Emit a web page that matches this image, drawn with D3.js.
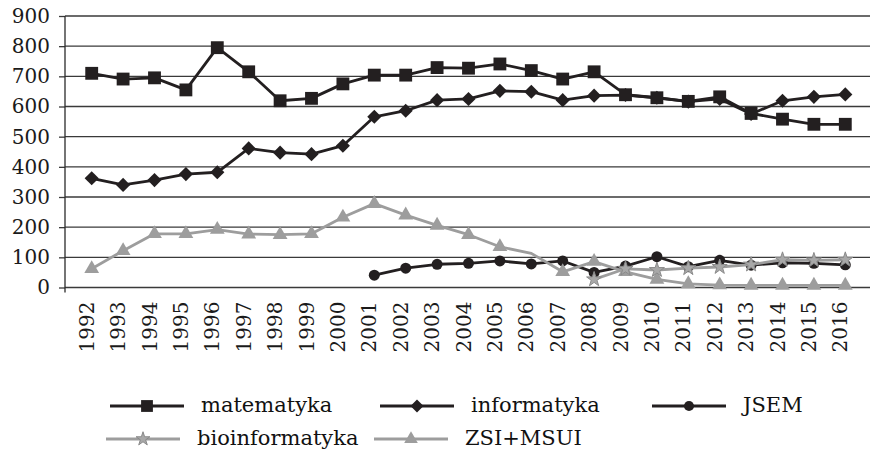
<!DOCTYPE html>
<html>
<head>
<meta charset="utf-8">
<script src="https://cdnjs.cloudflare.com/ajax/libs/d3/7.8.5/d3.min.js"></script>
<style>
  body{margin:0;background:#fff;}
  svg{display:block;}
</style>
</head>
<body>
<div id="chart"></div>
<script>
"use strict"

// data
var years = ["1992","1993","1994","1995","1996","1997","1998","1999","2000","2001","2002","2003",
  "2004","2005","2006","2007","2008","2009","2010","2011","2012","2013","2014","2015","2016"];
var yTicks = [0,100,200,300,400,500,600,700,800,900];

var matematyka = [710,691,695,655,795,715,619,627,675,704,704,729,727,741,719,691,715,639,629,617,632,577,558,541,541];
var informatyka = [362,340,356,376,382,461,447,442,470,566,586,621,625,652,649,621,636,638,629,616,625,575,619,632,640];
var jsem = [null,null,null,null,null,null,null,null,null,
  41,64,77,80,88,78,88,50,71,102,69,90,74,82,80,75];
var bioinformatyka = [null,null,null,null,null,null,null,null,null,null,null,null,null,null,null,null,
  27,62,58,64,68,76,92,90,92];
var zsiMsui = [62,122,178,178,192,177,175,178,233,278,240,206,175,135,113,52,86,52,27,12,8,7,7,7,7];
var zsiUnmarked = ["2006"];

var seriesNames = ["matematyka","informatyka","JSEM","bioinformatyka","ZSI+MSUI"];

var width = 870,
  height = 455,
  axisX = 65,
  plotTop = 16,
  plotBottom = 287.5,
  black = "#231f20",
  gray = "#9d9d9d",
  serif = "'DejaVu Serif', serif";

var styles = {
  "matematyka":     {color: black, shape: "square"},
  "informatyka":    {color: black, shape: "diamond"},
  "JSEM":           {color: black, shape: "circle"},
  "bioinformatyka": {color: gray,  shape: "star"},
  "ZSI+MSUI":       {color: gray,  shape: "triangle"}
};

var seriesData = {
  "matematyka": matematyka,
  "informatyka": informatyka,
  "JSEM": jsem,
  "bioinformatyka": bioinformatyka,
  "ZSI+MSUI": zsiMsui
};

// drawing order: later ones sit on top
var drawOrder = ["informatyka","matematyka","JSEM","ZSI+MSUI","bioinformatyka"];

var svg = d3.select("#chart").append("svg")
  .attr("width", width)
  .attr("height", height);

var x = d3.scaleBand()
  .domain(years)
  .range([76, 861]);

var y = d3.scaleLinear()
  .domain([0, 900])
  .range([plotBottom, plotTop]);

function cx(yr){ return x(yr) + x.bandwidth()/2; }

// gridlines
svg.append("g")
  .selectAll("line")
  .data(yTicks)
  .enter().append("line")
    .attr("x1", axisX)
    .attr("x2", width)
    .attr("y1", function(d){ return y(d); })
    .attr("y2", function(d){ return y(d); })
    .attr("stroke", "#3a3a3a")
    .attr("stroke-width", 1.3);

// y axis
var yAxis = svg.append("g")
  .attr("transform", "translate(" + axisX + ",0)")
  .call(d3.axisLeft(y).tickValues(yTicks).tickSize(6).tickPadding(9).tickSizeOuter(0));
yAxis.select(".domain").remove();
yAxis.selectAll("line").attr("stroke", "#3a3a3a").attr("stroke-width", 1.3);
yAxis.selectAll("text")
  .style("font-family", serif)
  .style("font-size", "20px")
  .attr("fill", "#1a1a1a");

svg.append("line")
  .attr("x1", axisX).attr("x2", axisX)
  .attr("y1", plotTop).attr("y2", plotBottom + 5)
  .attr("stroke", "#2a2a2a")
  .attr("stroke-width", 1.3);

// x axis labels
var xAxis = svg.append("g")
  .attr("transform", "translate(0," + plotBottom + ")")
  .call(d3.axisBottom(x).tickSize(0));
xAxis.select(".domain").remove();
xAxis.selectAll("text")
  .attr("transform", "rotate(-90)")
  .attr("text-anchor", "end")
  .attr("x", -14)
  .attr("y", 2)
  .attr("dy", 0)
  .style("font-family", serif)
  .style("font-size", "20px")
  .attr("fill", "#1a1a1a");

// markers
function symbolFor(shape, s){
  if(shape == "square") return d3.symbol().type(d3.symbolSquare).size(165*s*s)();
  if(shape == "diamond") return d3.symbol().type(d3.symbolSquare).size(100*s*s)();
  if(shape == "circle") return d3.symbol().type(d3.symbolCircle).size(95*s*s)();
  if(shape == "triangle") return d3.symbol().type(d3.symbolTriangle).size(95*s*s)();
  return d3.symbol().type(d3.symbolStar).size(70*s*s)();
}

function markerTransform(shape, px, py){
  var t = "translate(" + px + "," + py + ")";
  if(shape == "diamond") t += " rotate(45)";
  return t;
}

var line = d3.line()
  .defined(function(d){ return d.v != null; })
  .x(function(d){ return cx(d.year); })
  .y(function(d){ return y(d.v); });

drawOrder.forEach(function(name){
  var st = styles[name];
  var pts = years.map(function(yr, i){ return {year: yr, v: seriesData[name][i]}; });
  var g = svg.append("g");

  g.append("path")
    .datum(pts)
    .attr("d", line)
    .attr("fill", "none")
    .attr("stroke", st.color)
    .attr("stroke-width", 2.8)
    .attr("stroke-linejoin", "round");

  g.selectAll("path.mark")
    .data(pts.filter(function(d){
      return d.v != null && !(name == "ZSI+MSUI" && zsiUnmarked.indexOf(d.year) >= 0);
    }))
    .enter().append("path")
      .attr("class", "mark")
      .attr("d", symbolFor(st.shape, 1))
      .attr("transform", function(d){ return markerTransform(st.shape, cx(d.year), y(d.v)); })
      .attr("fill", st.shape == "star" ? "#a8a8a8" : st.color)
      .attr("stroke", st.shape == "star" ? "#8a8a8a" : "none")
      .attr("stroke-width", 1);
});

// legend
var legendPos = [
  {x: 110, y: 406},
  {x: 380, y: 406},
  {x: 652, y: 406},
  {x: 106, y: 439},
  {x: 374, y: 439}
];

var legend = svg.append("g");
seriesNames.forEach(function(name, i){
  var st = styles[name],
    p = legendPos[i],
    item = legend.append("g").attr("transform", "translate(" + p.x + "," + p.y + ")");

  item.append("line")
    .attr("x1", 0).attr("x2", 74)
    .attr("y1", 0).attr("y2", 0)
    .attr("stroke", st.color)
    .attr("stroke-width", 2.8);

  item.append("path")
    .attr("d", symbolFor(st.shape, 0.92))
    .attr("transform", markerTransform(st.shape, 37, 0))
    .attr("fill", st.shape == "star" ? "#a8a8a8" : st.color)
    .attr("stroke", st.shape == "star" ? "#8a8a8a" : "none");

  item.append("text")
    .attr("x", 91)
    .attr("y", 6)
    .text(name)
    .style("font-family", serif)
    .style("font-size", "21px")
    .attr("fill", "#111");
});
</script>
</body>
</html>
